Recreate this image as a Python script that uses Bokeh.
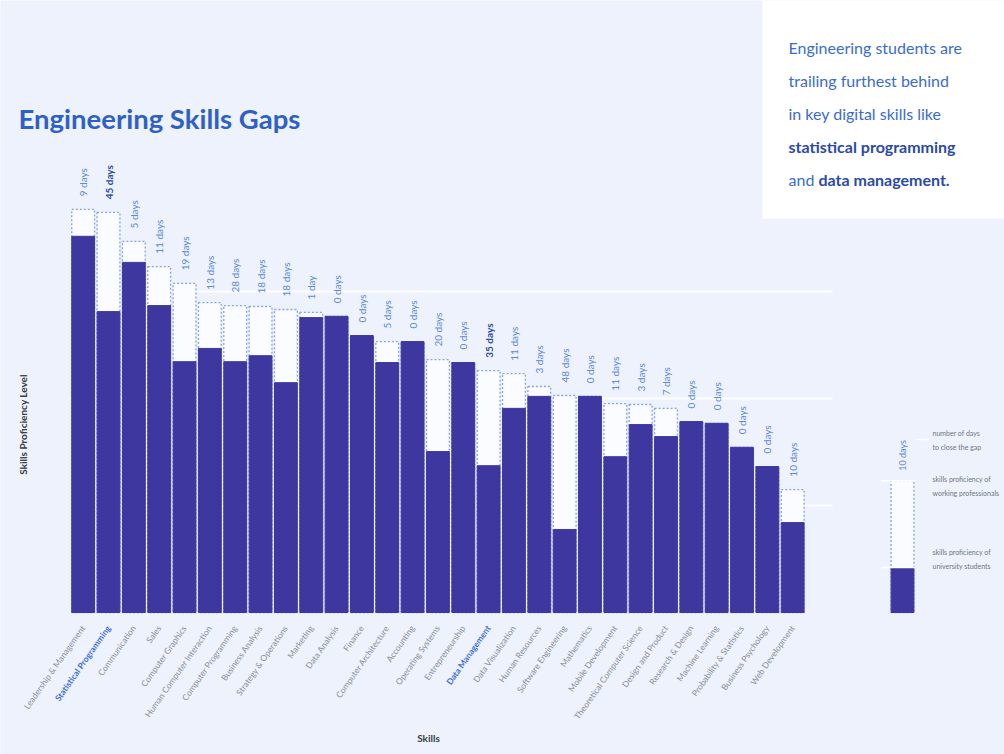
import math
from bokeh.plotting import figure
from bokeh.models import Range1d, FixedTicker, LinearAxis, BoxAnnotation, ColumnDataSource
from bokeh.core.properties import value
from bokeh.embed import file_html
from bokeh.resources import INLINE

# ---------------- data ----------------
SKILLS = [
    "Leadership & Management", "Statistical Programming", "Communication", "Sales",
    "Computer Graphics", "Human Computer Interaction", "Computer Programming",
    "Business Analysis", "Strategy & Operations", "Marketing", "Data Analysis",
    "Finance", "Computer Architecture", "Accounting", "Operating Systems",
    "Entrepreneurship", "Data Management", "Data Visualization", "Human Resources",
    "Software Engineering", "Mathematics", "Mobile Development",
    "Theoretical Computer Science", "Design and Product", "Research & Design",
    "Machine Learning", "Probability & Statistics", "Business Psychology",
    "Web Development",
]
STUDENT = [87.9, 70.3, 81.8, 71.7, 58.6, 61.7, 58.6, 60.0, 53.7, 68.9, 69.2,
           64.7, 58.4, 63.3, 37.6, 58.4, 34.3, 47.7, 50.5, 19.4, 50.5, 36.4,
           43.9, 41.1, 44.6, 44.2, 38.6, 34.1, 21.0]
PROFESSIONAL = [94.2, 93.5, 86.7, 80.8, 76.9, 72.4, 71.7, 71.5, 70.8, 70.1, 69.2,
                64.7, 63.3, 63.3, 59.1, 58.4, 56.5, 55.8, 52.8, 50.7, 50.5, 48.8,
                48.6, 47.7, 44.6, 44.2, 38.6, 34.1, 28.7]
DAYS = [9, 45, 5, 11, 19, 13, 28, 18, 18, 1, 0, 0, 5, 0, 20, 0, 35, 11, 3, 48,
        0, 11, 3, 7, 0, 0, 0, 0, 10]
HIGHLIGHT = ["Statistical Programming", "Data Management"]
GRID_LEVELS = [25, 50, 75]

LEGEND_STUDENT = 10.5
LEGEND_PRO = 30.8
LEGEND_DAYS = 10

TITLE = "Engineering Skills Gaps"
NOTE_LINES = [
    [("Engineering students are", "normal")],
    [("trailing furthest behind", "normal")],
    [("in key digital skills like", "normal")],
    [("statistical programming", "bold")],
    [("and ", "normal"), ("data management.", "bold")],
]

# ---------------- style ----------------
W, H = 1004, 754
BG = "#edf2fd"
BAR = "#3e37a0"
DASH = "#86a3e2"
BLUE = "#3a6cd0"
BLUE_DARK = "#2a4aa8"
DAY_BLUE = "#5a88e2"
GREY = "#8a8f9a"
FONT = "Lato"

PX_X = 25.34          # pixels per category
PX_Y = 4.28           # pixels per proficiency unit
BAR_LEFT_PX = 70
BASE_PX = 612


def px_to_x(px):
    return (px - BAR_LEFT_PX) / PX_X - 0.5


def px_to_y(py):
    return (BASE_PX - py) / PX_Y


p = figure(width=W, height=H,
           x_range=Range1d(px_to_x(0), px_to_x(W)),
           y_range=Range1d(px_to_y(H), px_to_y(0)),
           output_backend="svg", toolbar_location=None,
           y_axis_location=None,
           min_border_left=0, min_border_right=0, min_border_top=0,
           min_border_bottom=0,
           background_fill_color=BG, border_fill_color=BG,
           outline_line_color=None)
p.grid.visible = False

# note box
p.add_layout(BoxAnnotation(left=px_to_x(762), right=px_to_x(W),
                           bottom=px_to_y(218), top=px_to_y(0),
                           fill_color="white", fill_alpha=1.0,
                           line_color=None, level="underlay"))

# grid lines
p.segment(x0=[-0.5] * len(GRID_LEVELS), x1=[px_to_x(832)] * len(GRID_LEVELS),
          y0=GRID_LEVELS, y1=GRID_LEVELS, line_color="white", line_width=2,
          line_alpha=0.9)

xs = list(range(len(SKILLS)))
labels = [f"{d} day" if d == 1 else f"{d} days" for d in DAYS]
hl = [s in HIGHLIGHT for s in SKILLS]
src = ColumnDataSource(dict(
    x=xs, student=STUDENT, pro=PROFESSIONAL, label=labels,
    color=[BLUE_DARK if h else DAY_BLUE for h in hl],
    style=["bold" if h else "normal" for h in hl],
))

p.vbar(x="x", top="pro", bottom=0, width=0.9, source=src,
       fill_color="#fbfcff", line_color=DASH, line_dash="2 2", line_width=1.3)
p.vbar(x="x", top="student", bottom=0, width=0.9, source=src,
       fill_color=BAR, line_color=BAR, line_width=1)
p.text(x="x", y="pro", text="label", source=src, angle=math.pi / 2,
       text_align="left", text_baseline="middle", y_offset=-13,
       text_font=value(FONT), text_font_size="10px", text_color="color",
       text_font_style="style")

# legend
LX = px_to_x(902)
p.vbar(x=[LX], top=[LEGEND_PRO], bottom=0, width=0.9,
       fill_color="#fbfcff", line_color=DASH, line_dash="2 2", line_width=1.3)
p.vbar(x=[LX], top=[LEGEND_STUDENT], bottom=0, width=0.9,
       fill_color=BAR, line_color=BAR)
p.segment(x0=[LX - 0.85, LX - 0.85], x1=[LX + 0.5, LX + 0.5],
          y0=[LEGEND_PRO, LEGEND_STUDENT], y1=[LEGEND_PRO, LEGEND_STUDENT],
          line_color="white", line_width=1.5)
p.segment(x0=[LX + 0.55], x1=[LX + 1.05], y0=[px_to_y(439)], y1=[px_to_y(439)],
          line_color="white", line_width=1.5)
p.text(x=[LX], y=[LEGEND_PRO], text=[f"{LEGEND_DAYS} days"], angle=math.pi / 2,
       text_align="left", text_baseline="middle", y_offset=-10,
       text_font=value(FONT), text_font_size="9px", text_color=DAY_BLUE)
leg_x = px_to_x(932)
leg_lines = [("number of days", 432), ("to close the gap", 446),
             ("skills proficiency of", 478), ("working professionals", 492),
             ("skills proficiency of", 551), ("university students", 565)]
p.text(x=[leg_x] * len(leg_lines), y=[px_to_y(yy) for _, yy in leg_lines],
       text=[t for t, _ in leg_lines], text_align="left", text_baseline="middle",
       text_font=value(FONT), text_font_size="7px", text_color="#6f7580")

# title
p.text(x=[px_to_x(18)], y=[px_to_y(118)], text=[TITLE], text_align="left",
       text_baseline="alphabetic", text_font=value(FONT), text_font_size="27.5px",
       text_font_style="bold", text_color="#2f60c6")

# note text
offsets = {"and ": 30}
for i, segs in enumerate(NOTE_LINES):
    xoff = 0
    for txt, st in segs:
        p.text(x=[px_to_x(788)], y=[px_to_y(47 + 33 * i)], text=[txt], x_offset=xoff,
               text_align="left", text_baseline="alphabetic",
               text_font=value(FONT), text_font_size="16px",
               text_font_style=st, text_color=BLUE_DARK if st == "bold" else BLUE)
        xoff += offsets.get(txt, 0)

# y label
p.text(x=[px_to_x(22)], y=[px_to_y(424)], text=["Skills Proficiency Level"],
       angle=math.pi / 2, text_align="center", text_baseline="middle",
       text_font=value(FONT), text_font_size="10px", text_font_style="bold",
       text_color="#3a3d44")

# x label
p.text(x=[px_to_x(428)], y=[px_to_y(737)], text=["Skills"],
       text_align="center", text_baseline="middle",
       text_font=value(FONT), text_font_size="10px", text_font_style="bold",
       text_color="#3a3d44")


def style_axis(ax, ticks, overrides, color, font_style):
    ax.fixed_location = 0
    ax.ticker = FixedTicker(ticks=ticks)
    ax.major_label_overrides = overrides
    ax.major_label_orientation = 0.96
    ax.major_label_standoff = 14
    ax.major_label_text_font = FONT
    ax.major_label_text_font_size = "8.5px"
    ax.major_label_text_color = color
    ax.major_label_text_font_style = font_style
    ax.axis_line_color = None
    ax.major_tick_line_color = None
    ax.minor_tick_line_color = None
    ax.major_tick_out = 0
    ax.major_tick_in = 0


# x axis: regular skills in grey
style_axis(p.xaxis[0], xs,
           {i: ("" if s in HIGHLIGHT else s) for i, s in enumerate(SKILLS)},
           GREY, "normal")
# x axis: highlighted skills in blue bold
hl_idx = [i for i, s in enumerate(SKILLS) if s in HIGHLIGHT]
ax2 = LinearAxis()
style_axis(ax2, hl_idx, {i: SKILLS[i] for i in hl_idx}, "#3d6fdc", "bold")
p.add_layout(ax2, "below")

open("out.html", "w").write(file_html(p, INLINE))
